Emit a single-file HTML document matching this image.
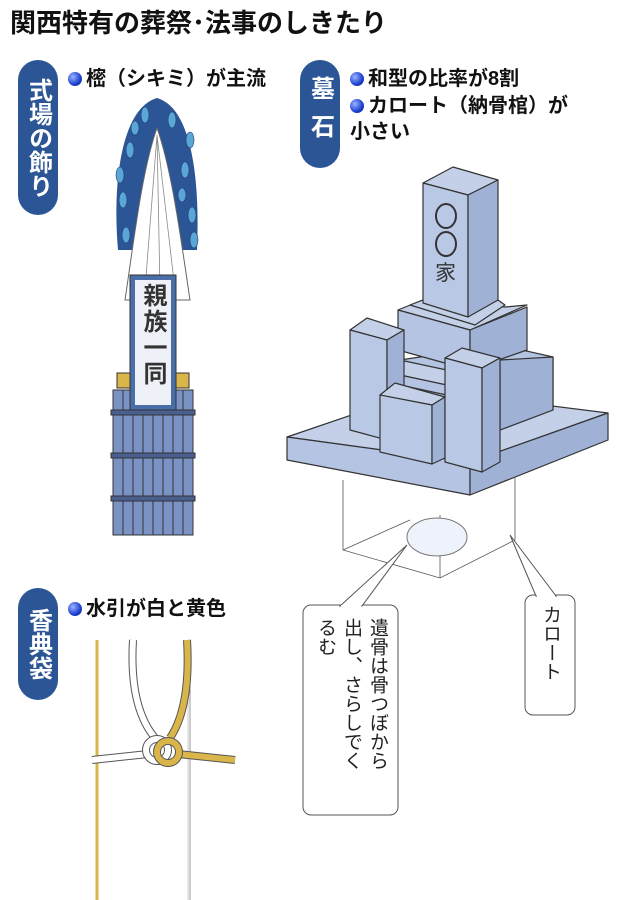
<!DOCTYPE html>
<html><head><meta charset="utf-8"><style>
body{margin:0;background:#fff;}
.w{position:relative;width:630px;height:900px;overflow:hidden;font-family:"Liberation Sans","Noto Sans CJK JP",sans-serif;}
.t{position:absolute;color:#111;white-space:nowrap;}
.v{writing-mode:vertical-rl;position:absolute;white-space:nowrap;}
.pill{position:absolute;background:#2c5596;border-radius:20px;color:#fff;font-weight:bold;font-size:24px;writing-mode:vertical-rl;display:flex;align-items:center;justify-content:center;}
.b{display:inline-block;width:14px;height:14px;border-radius:50%;background:radial-gradient(circle at 35% 35%,#9ab4ff,#1d3fd0 60%,#0a1e80);margin-right:4px;vertical-align:-1px;}
</style></head><body><div class="w">
<div class="t" style="left:10px;top:3px;font-size:26px;font-weight:bold;">関西特有の葬祭･法事のしきたり</div>
<div class="pill" style="left:18px;top:60px;width:40px;height:155px;">式場の飾り</div>
<div class="pill" style="left:300px;top:60px;width:40px;height:108px;letter-spacing:14px;">墓石</div>
<div class="pill" style="left:18px;top:588px;width:40px;height:112px;">香典袋</div>
<div class="t" style="left:68px;top:62px;font-size:20px;font-weight:bold;"><span class="b"></span>樒（シキミ）が主流</div>
<div class="t" style="left:350px;top:62px;font-size:20px;font-weight:bold;"><span class="b"></span>和型の比率が8割</div>
<div class="t" style="left:350px;top:93px;font-size:20px;font-weight:bold;line-height:26px;"><span class="b"></span>カロート（納骨棺）が<br>小さい</div>
<div class="t" style="left:68px;top:592px;font-size:20px;font-weight:bold;"><span class="b"></span>水引が白と黄色</div>

<svg style="position:absolute;left:0;top:0" width="630" height="900">
<g stroke="#333" stroke-width="1.2" stroke-linejoin="round">
<polygon points="287,437 425,390 608,413 470,462" fill="#c3d0e8"/>
<polygon points="287,437 470,462 470,495 287,460" fill="#b5c4e2"/>
<polygon points="470,462 608,413 608,440 470,495" fill="#9fb2d6"/>
<polygon points="400,360 500,345 553,357 553,410 500,430 400,410" fill="#b5c4e2"/>
<polygon points="500,360 553,357 553,410 500,430" fill="#9fb2d6"/>
<polygon points="400,360 470,375 470,390 400,375" fill="#c3d0e8"/>
<polygon points="400,375 470,390 470,400 400,385" fill="#b5c4e2"/>
<polygon points="398,310 430,297 505,307 527,305 470,330" fill="#c3d0e8"/>
<polygon points="398,310 470,330 470,370 398,350" fill="#b5c4e2"/>
<polygon points="470,330 527,307 527,350 470,370" fill="#9fb2d6"/>
<polygon points="410,305 423,300 468,312 498,300 505,305 475,325" fill="#c3d0e8"/>
<polygon points="423,183 453,167 498,180 468,195" fill="#c3d0e8"/>
<polygon points="423,183 468,195 468,317 423,303" fill="#b9c8e5"/>
<polygon points="468,195 498,180 498,300 468,317" fill="#9fb2d6"/>
<polygon points="350,330 367,318 404,330 387,340" fill="#c3d0e8"/>
<polygon points="350,330 387,340 387,440 350,430" fill="#b9c8e5"/>
<polygon points="387,340 404,330 404,432 387,440" fill="#9fb2d6"/>
<polygon points="380,395 395,383 445,397 432,405" fill="#c3d0e8"/>
<polygon points="380,395 432,405 432,464 380,452" fill="#b9c8e5"/>
<polygon points="432,405 445,397 445,458 432,464" fill="#9fb2d6"/>
<polygon points="445,358 462,348 500,358 482,368" fill="#c3d0e8"/>
<polygon points="445,358 482,368 482,472 445,462" fill="#b9c8e5"/>
<polygon points="482,368 500,358 500,462 482,472" fill="#9fb2d6"/>
</g>
<g fill="none" stroke="#333" stroke-width="2"><ellipse cx="446" cy="216" rx="10" ry="12"/><ellipse cx="446" cy="244" rx="10" ry="12"/></g>
<text x="435" y="280" font-size="21" fill="#333" font-family="Noto Sans CJK JP,sans-serif">家</text>
<g stroke="#555" stroke-width="0.8" fill="none">
<polyline points="343,480 343,550 440,578 515,540 515,478"/>
<line x1="440" y1="578" x2="440" y2="515"/>
<line x1="343" y1="550" x2="410" y2="520"/>
</g>
<ellipse cx="437" cy="537" rx="30" ry="19" fill="#eef2fa" stroke="#777"/>
<rect x="303" y="605" width="95" height="210" rx="8" fill="#fff" stroke="#555"/>
<polygon points="340,606 407,545 362,606" fill="#fff" stroke="#555"/>
<line x1="341" y1="606" x2="361" y2="606" stroke="#fff" stroke-width="2"/>
<rect x="525" y="595" width="50" height="120" rx="8" fill="#fff" stroke="#555"/>
<polygon points="536,596 510,535 556,596" fill="#fff" stroke="#555"/>
<line x1="537" y1="596" x2="555" y2="596" stroke="#fff" stroke-width="2"/>
<!-- wreath -->
<path d="M157,98 C122,108 112,180 118,250 L197,250 C200,180 192,108 157,98Z" fill="#2c5596"/>
<g fill="#5aa6d6" stroke="#1e3d70" stroke-width="0.6">
<ellipse cx="130" cy="150" rx="4" ry="8"/><ellipse cx="185" cy="170" rx="4" ry="8"/><ellipse cx="123" cy="200" rx="4" ry="8"/><ellipse cx="192" cy="215" rx="4" ry="8"/><ellipse cx="145" cy="115" rx="4" ry="8"/><ellipse cx="172" cy="120" rx="4" ry="8"/><ellipse cx="126" cy="235" rx="4" ry="8"/><ellipse cx="190" cy="140" rx="4" ry="8"/><ellipse cx="120" cy="175" rx="4" ry="8"/><ellipse cx="194" cy="240" rx="4" ry="8"/><ellipse cx="135" cy="128" rx="4" ry="7"/><ellipse cx="182" cy="195" rx="4" ry="7"/></g>
<path d="M157,128 C142,170 134,240 125,300 L190,300 C181,240 172,170 157,128Z" fill="#fff" stroke="#666"/>
<g stroke="#888" stroke-width="0.8"><line x1="157" y1="135" x2="145" y2="290"/><line x1="157" y1="135" x2="160" y2="290"/><line x1="157" y1="135" x2="175" y2="290"/></g>
<rect x="113" y="390" width="80" height="145" fill="#7b92c4" stroke="#333"/>
<g stroke="#333" stroke-width="1"><line x1="123" y1="390" x2="123" y2="535"/><line x1="133" y1="390" x2="133" y2="535"/><line x1="143" y1="390" x2="143" y2="535"/><line x1="153" y1="390" x2="153" y2="535"/><line x1="163" y1="390" x2="163" y2="535"/><line x1="173" y1="390" x2="173" y2="535"/><line x1="183" y1="390" x2="183" y2="535"/></g>
<g fill="#4a5f90" stroke="#333"><rect x="111" y="410" width="84" height="5"/><rect x="111" y="453" width="84" height="5"/><rect x="111" y="496" width="84" height="5"/></g>
<rect x="117" y="373" width="72" height="15" fill="#d9b54a" stroke="#333"/>
<rect x="130" y="275" width="46" height="135" fill="#4a6ea8" stroke="#333"/>
<rect x="135" y="280" width="36" height="125" fill="#eef2f8"/>
<!-- envelope -->
<line x1="97" y1="640" x2="97" y2="900" stroke="#d9b54a" stroke-width="3"/>
<line x1="190" y1="640" x2="190" y2="900" stroke="#999" stroke-width="1"/>
<line x1="188" y1="640" x2="188" y2="900" stroke="#ccc" stroke-width="1"/>
<path d="M133,640 C130,690 140,720 155,738" fill="none" stroke="#555" stroke-width="8"/>
<path d="M133,640 C130,690 140,720 155,738" fill="none" stroke="#fff" stroke-width="6"/>
<path d="M187,640 C190,690 182,720 170,738" fill="none" stroke="#555" stroke-width="8"/>
<path d="M187,640 C190,690 182,720 170,738" fill="none" stroke="#d9b54a" stroke-width="6"/>
<path d="M92,760 L148,754" stroke="#555" stroke-width="8"/><path d="M92,760 L148,754" stroke="#fff" stroke-width="6"/>
<path d="M178,754 L235,760" stroke="#555" stroke-width="8"/><path d="M178,754 L235,760" stroke="#d9b54a" stroke-width="6"/>
<circle cx="157" cy="750" r="11" fill="none" stroke="#555" stroke-width="8"/><circle cx="157" cy="750" r="11" fill="none" stroke="#fff" stroke-width="6"/>
<circle cx="168" cy="752" r="11" fill="none" stroke="#555" stroke-width="8"/><circle cx="168" cy="752" r="11" fill="none" stroke="#d9b54a" stroke-width="6"/>
</svg>
<div class="v" style="left:137px;top:283px;font-size:24px;font-weight:bold;color:#333;line-height:30px;letter-spacing:2px;">親族一同</div>
<div class="v" style="left:312px;top:618px;font-size:19px;line-height:26px;color:#222;">遺骨は骨つぼから<br>出し、さらしでく<br>るむ</div>
<div class="v" style="left:537px;top:605px;font-size:19px;color:#222;">カロート</div>
</div></body></html>
